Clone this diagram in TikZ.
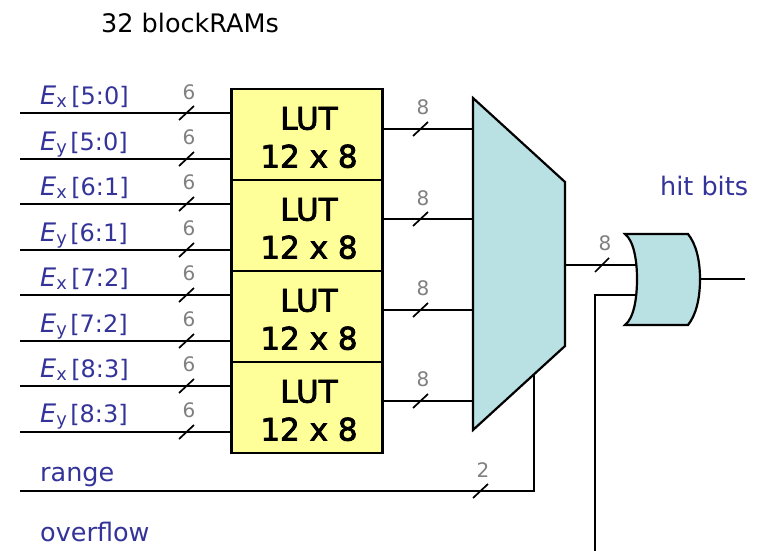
\documentclass[tikz,border=0pt]{standalone}
\usepackage{fontspec}
\setmainfont{DejaVu Sans}
\newfontfamily\lutfont{DejaVu Sans}[RawFeature={embolden=2.6}]
\usetikzlibrary{positioning}
\definecolor{labelblue}{HTML}{333399}
\definecolor{lutyellow}{HTML}{FFFF99}
\definecolor{muxteal}{HTML}{B9E0E3}
\definecolor{widthgray}{HTML}{808080}
\tikzset{
	wire/.style={line width=2.2pt},
	bustick/.style={line width=1.7pt},
	lutbox/.style={draw,line width=2.2pt,fill=lutyellow,minimum width=151pt,minimum height=91pt,inner sep=0pt},
	luttext/.style={inner sep=0pt,align=center,font=\lutfont\fontsize{31}{38}\selectfont},
	sigtext/.style={anchor=base west,text=labelblue,inner sep=0pt,font=\fontsize{25.5}{30}\selectfont},
	buswidth/.style={text=widthgray,inner sep=0pt,font=\fontsize{20}{24}\selectfont}
}
\newcommand{\ex}[1]{{\itshape E}\textsubscript{x}\hspace{4pt}{\fontsize{24}{30}\selectfont #1}}
\newcommand{\ey}[1]{{\itshape E}\textsubscript{y}\hspace{3pt}{\fontsize{24}{30}\selectfont #1}}
\begin{document}
\begin{tikzpicture}[x=1pt,y=-1pt]
	\useasboundingbox (0,0) rectangle (760,551);

	\node[anchor=base west,inner sep=0pt,font=\fontsize{25.5}{30}\selectfont] (title) at (101,33) {32 blockRAMs};

	\node[lutbox] (lut1) at (307,134.5) {};
	\node[lutbox] (lut2) at (307,225.5) {};
	\node[lutbox] (lut3) at (307,316.5) {};
	\node[lutbox] (lut4) at (307,407.5) {};
	\node[luttext] (text1) at (309,137.5) {LUT\\12 x 8};
	\node[luttext] (text2) at (309,228.5) {LUT\\12 x 8};
	\node[luttext] (text3) at (309,319.5) {LUT\\12 x 8};
	\node[luttext] (text4) at (309,410.5) {LUT\\12 x 8};

	\coordinate (in1) at (20,113);
	\coordinate (in2) at (20,159);
	\coordinate (in3) at (20,204);
	\coordinate (in4) at (20,250);
	\coordinate (in5) at (20,295);
	\coordinate (in6) at (20,341);
	\coordinate (in7) at (20,386);
	\coordinate (in8) at (20,432);

	\draw[wire] (in1) -- (in1 -| lut1.west);
	\draw[wire] (in2) -- (in2 -| lut1.west);
	\draw[wire] (in3) -- (in3 -| lut2.west);
	\draw[wire] (in4) -- (in4 -| lut2.west);
	\draw[wire] (in5) -- (in5 -| lut3.west);
	\draw[wire] (in6) -- (in6 -| lut3.west);
	\draw[wire] (in7) -- (in7 -| lut4.west);
	\draw[wire] (in8) -- (in8 -| lut4.west);

	\node[sigtext] (ex1) at (40,104) {\ex{[5:0]}};
	\node[sigtext] (ey1) at (40,150) {\ey{[5:0]}};
	\node[sigtext] (ex2) at (40,195) {\ex{[6:1]}};
	\node[sigtext] (ey2) at (40,241) {\ey{[6:1]}};
	\node[sigtext] (ex3) at (40,286) {\ex{[7:2]}};
	\node[sigtext] (ey3) at (40,332) {\ey{[7:2]}};
	\node[sigtext] (ex4) at (40,377) {\ex{[8:3]}};
	\node[sigtext] (ey4) at (40,422) {\ey{[8:3]}};
	\node[sigtext] (range) at (40,481) {range};
	\node[sigtext] (overflow) at (40,541) {overflow};
	\node[sigtext] (hitbits) at (660,195) {hit bits};

	\node[buswidth] (w1) at (189,92) {6};
	\node[buswidth] (w2) at (189,137) {6};
	\node[buswidth] (w3) at (189,182) {6};
	\node[buswidth] (w4) at (189,228) {6};
	\node[buswidth] (w5) at (189,273) {6};
	\node[buswidth] (w6) at (189,319) {6};
	\node[buswidth] (w7) at (189,364) {6};
	\node[buswidth] (w8) at (189,410) {6};

	\draw[bustick] (179,120) -- (194,106);
	\draw[bustick] (179,166) -- (194,152);
	\draw[bustick] (179,211) -- (194,197);
	\draw[bustick] (179,257) -- (194,243);
	\draw[bustick] (179,302) -- (194,288);
	\draw[bustick] (179,348) -- (194,334);
	\draw[bustick] (179,393) -- (194,379);
	\draw[bustick] (179,439) -- (194,425);

	% mux
	\coordinate (muxa) at (473,98);
	\coordinate (muxb) at (565,182);
	\coordinate (muxc) at (565,346);
	\coordinate (muxd) at (473,430);
	\draw[wire,fill=muxteal] (muxa) -- (muxb) -- (muxc) -- (muxd) -- cycle;

	\coordinate (out1) at (473,129);
	\coordinate (out2) at (473,219);
	\coordinate (out3) at (473,310);
	\coordinate (out4) at (473,401);
	\draw[wire] (out1 -| lut1.east) -- (out1);
	\draw[wire] (out2 -| lut2.east) -- (out2);
	\draw[wire] (out3 -| lut3.east) -- (out3);
	\draw[wire] (out4 -| lut4.east) -- (out4);

	\node[buswidth] (w9) at (423,107) {8};
	\node[buswidth] (w10) at (423,198) {8};
	\node[buswidth] (w11) at (423,288) {8};
	\node[buswidth] (w12) at (423,379) {8};

	\draw[bustick] (413,136) -- (428,122);
	\draw[bustick] (413,226) -- (428,212);
	\draw[bustick] (413,317) -- (428,303);
	\draw[bustick] (413,408) -- (428,394);

	% range into mux
	\coordinate (rangein) at (20,491);
	\coordinate (muxsel) at (534,374);
	\draw[wire] (rangein) -| (muxsel);
	\node[buswidth] (w13) at (483,470) {2};
	\draw[bustick] (473,498) -- (488,484);

	% or gate
	\coordinate (ortop) at (625,234);
	\coordinate (orbot) at (625,325);
	\draw[wire,fill=muxteal] (ortop) -- (688,234) .. controls (696,244) and (700,260) .. (700,279) .. controls (700,299) and (696,315) .. (688,325) -- (orbot) .. controls (634,318) and (637,298) .. (637,279) .. controls (637,261) and (634,241) .. (ortop) -- cycle;

	\coordinate (orin1) at (637,265);
	\coordinate (orin2) at (637,295);
	\coordinate (overin) at (595,551);
	\coordinate (orfront) at (700,279);
	\coordinate (hitout) at (745,279);
	\draw[wire] (orin1 -| muxc) -- (orin1);
	\draw[wire] (overin) |- (orin2);
	\draw[wire] (orfront) -- (hitout);
	\node[buswidth] (w14) at (605,243) {8};
	\draw[bustick] (595,272) -- (609,258);
\end{tikzpicture}
\end{document}
